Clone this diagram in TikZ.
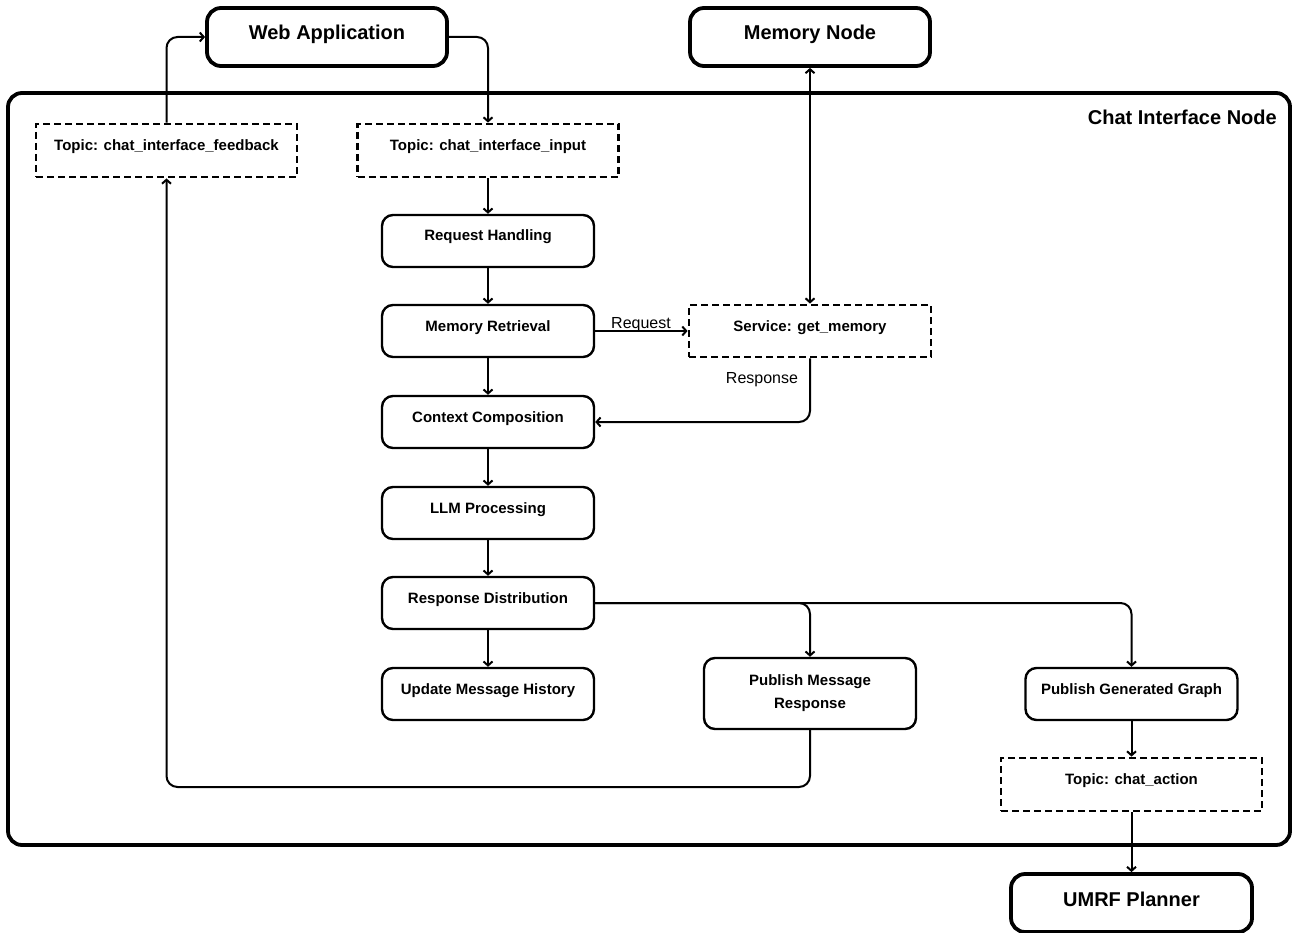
\documentclass[tikz,border=0pt]{standalone}
\usepackage{fontspec}
\setmainfont{Liberation Sans}
\usetikzlibrary{arrows.meta}

\begin{document}
\begin{tikzpicture}[x=1pt, y=-1pt,
  tip/.style={-{Straight Barb[length=4pt,width=9pt]}},
  conn/.style={line width=2pt, rounded corners=11pt, tip},
  step box/.style={draw, line width=2.4pt, rounded corners=11pt,
    minimum width=212pt, minimum height=52pt, inner sep=0pt,
    font=\bfseries\fontsize{15}{18}\selectfont, text height=0pt, text depth=0pt},
  topic box/.style={draw, line width=2.8pt, dash pattern=on 7pt off 4pt,
    minimum width=261pt, minimum height=53pt, inner sep=0pt,
    font=\bfseries\fontsize{15}{18}\selectfont, text height=0pt, text depth=0pt},
  ext box/.style={draw, line width=3.8pt, rounded corners=14pt,
    minimum width=240pt, minimum height=58pt, inner sep=0pt,
    font=\bfseries\fontsize{20}{24}\selectfont, text height=6pt, text depth=0pt},
  edge label/.style={anchor=base, font=\fontsize{16}{19}\selectfont, inner sep=0pt}
]
\useasboundingbox (0,0) rectangle (1295,933);

% enclosing node
\node[draw, line width=3.8pt, rounded corners=14pt, minimum width=1282pt,
  minimum height=752pt, inner sep=0pt] (chat) at (649,469) {};
\node[anchor=base east, inner sep=0pt, font=\bfseries\fontsize{20}{24}\selectfont]
  (chat-title) at (1277,125) {Chat Interface Node};

% external nodes
\node[ext box] (web) at (327,37) {Web Application};
\node[ext box] (mem) at (810,37) {Memory Node};
\node[ext box, minimum width=241pt] (umrf) at (1131.5,903) {UMRF Planner};

% topics and service
\node[topic box] (fb) at (166.5,150.5) {Topic: chat\_interface\_feedback};
\node[topic box] (in) at (488,150.5) {Topic: chat\_interface\_input};
\node[topic box, minimum width=242pt, minimum height=52pt] (svc) at (810,331) {Service: get\_memory};
\node[topic box] (act) at (1131.5,784.5) {Topic: chat\_action};

% processing steps
\node[step box] (rh)  at (488,241) {Request Handling};
\node[step box] (mr)  at (488,331) {Memory Retrieval};
\node[step box] (cc)  at (488,422) {Context Composition};
\node[step box] (llm) at (488,513) {LLM Processing};
\node[step box] (rd)  at (488,603) {Response Distribution};
\node[step box] (umh) at (488,694) {Update Message History};
\node[step box, minimum height=71pt, text height=, text depth=, align=center,
  font=\bfseries\fontsize{15}{23}\selectfont] (pmr) at (810,693.5) {Publish Message\\Response};
\node[step box] (pgg) at (1131.5,694) {Publish Generated Graph};

\coordinate (loop) at (0,787);

% connectors
\draw[conn] (fb.north) |- (web.west);
\draw[conn] (web.east) -| (in.north);
\draw[conn] (in.south) -- (rh.north);
\draw[conn] (rh.south) -- (mr.north);
\draw[conn] (mr.south) -- (cc.north);
\draw[conn] (cc.south) -- (llm.north);
\draw[conn] (llm.south) -- (rd.north);
\draw[conn] (rd.south) -- (umh.north);
\draw[conn] (mr.east) -- (svc.west);
\draw[conn, {Straight Barb[length=4pt,width=9pt]}-{Straight Barb[length=4pt,width=9pt]}] (mem.south) -- (svc.north);
\draw[conn] (svc.south) |- (cc.east);
\draw[conn] (rd.east) -| (pmr.north);
\draw[conn] (rd.east) -| (pgg.north);
\draw[conn] (pmr.south) -- (pmr.south |- loop) -| (fb.south);
\draw[conn] (pgg.south) -- (act.north);
\draw[conn] (act.south) -- (umrf.north);

% edge labels
\node[edge label] (req-lbl) at (641,328) {Request};
\node[edge label] (resp-lbl) at (762,383) {Response};
\end{tikzpicture}
\end{document}
